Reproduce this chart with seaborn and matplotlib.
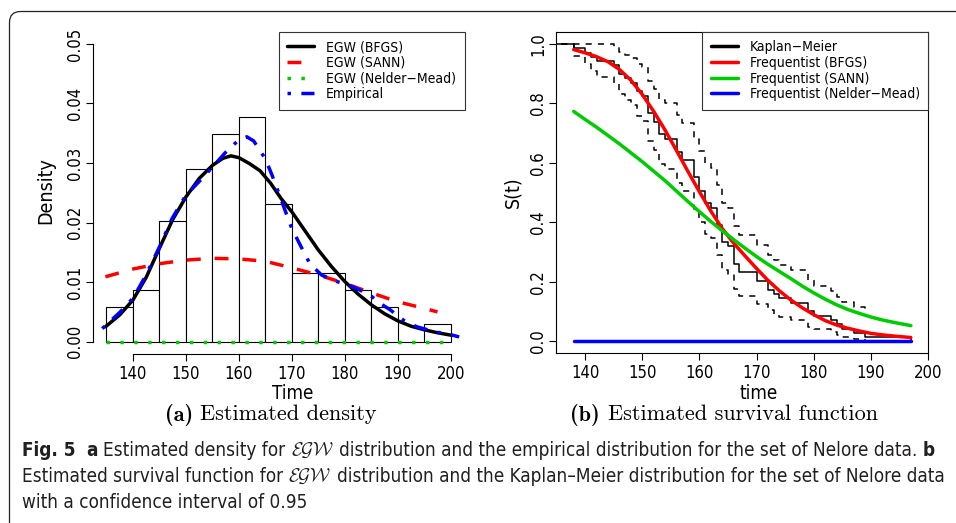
import matplotlib
matplotlib.use("Agg")
import matplotlib.pyplot as plt
import seaborn as sns
from matplotlib import font_manager as fm
from matplotlib.lines import Line2D
from matplotlib.patches import FancyBboxPatch
from matplotlib.transforms import IdentityTransform

# (a) histogram of the Nelore data, density per 5-day bin
bin_left = [135, 140, 145, 150, 155, 160, 165, 170, 175, 180, 185, 190, 195]
bin_edges = [135, 140, 145, 150, 155, 160, 165, 170, 175, 180, 185, 190, 195, 200]
hist_density = [0.0058, 0.0087, 0.0203, 0.0290, 0.0348, 0.0377, 0.0232,
                0.0116, 0.0116, 0.0087, 0.0058, 0.0, 0.0029]

# (a) fitted densities
bfgs_t = [134.8, 137.5, 140, 142.5, 145, 147.5, 150, 152.5, 155, 157, 158.5, 160,
          162, 164, 166, 168, 170, 172.5, 175, 177.5, 180, 182.5, 185, 187.5, 190,
          192.5, 195, 197.5, 200]
bfgs_dens = [0.0025, 0.0045, 0.0070, 0.0108, 0.0157, 0.0205, 0.0243, 0.0274, 0.0296,
             0.0308, 0.0312, 0.0309, 0.0299, 0.0287, 0.0266, 0.0240, 0.0218, 0.0186,
             0.0154, 0.0126, 0.0101, 0.0080, 0.0062, 0.0047, 0.0035, 0.0026, 0.0020,
             0.0015, 0.0011]
sann_t = [134.8, 140, 145, 150, 155, 160, 165, 170, 175, 180, 185, 190, 195, 197.5]
sann_dens = [0.0109, 0.0122, 0.0131, 0.0137, 0.0140, 0.0139, 0.0135, 0.0124, 0.0112,
             0.0098, 0.0082, 0.0067, 0.0056, 0.0050]
nm_t = [135, 200]
nm_dens = [0.0, 0.0]
emp_t = [134.2, 137.6, 140, 142.3, 145, 147.4, 150, 152.4, 155, 157.4, 160, 161.5,
         162.8, 165, 166.2, 167.8, 168.7, 170, 171.6, 173.4, 175.6, 178.5, 180.4,
         182.3, 184.8, 186.7, 188.5, 191.1, 193.6, 197.3, 199.9, 201.6]
emp_dens = [0.0022, 0.0050, 0.0073, 0.0109, 0.0159, 0.0207, 0.0246, 0.0268, 0.0293,
            0.0317, 0.0339, 0.0344, 0.0337, 0.0307, 0.0281, 0.0243, 0.0221, 0.0190,
            0.0162, 0.0131, 0.0112, 0.0101, 0.0096, 0.0089, 0.0078, 0.0064, 0.0054,
            0.0036, 0.0025, 0.0016, 0.0012, 0.0008]

# (b) Kaplan-Meier estimate with 95% band
km_time = [0, 138, 140, 141, 142, 145, 146, 147, 148, 149, 150, 151, 152, 153, 154,
           156, 157, 159, 160, 161, 162, 163, 164, 165, 166, 167, 170, 172, 173, 174,
           176, 179, 180, 183, 184, 185, 187, 189, 197]
km_surv = [1.0, 0.986, 0.971, 0.957, 0.942, 0.928, 0.899, 0.884, 0.870, 0.841, 0.826,
           0.768, 0.739, 0.696, 0.681, 0.638, 0.609, 0.551, 0.507, 0.464, 0.449, 0.391,
           0.333, 0.319, 0.261, 0.232, 0.203, 0.174, 0.159, 0.145, 0.130, 0.101, 0.087,
           0.072, 0.058, 0.043, 0.029, 0.014, 0.0]
ci_time = km_time[:-1]
ci_upper = [1.0, 1.0, 1.0, 1.0, 0.999, 0.991, 0.973, 0.963, 0.953, 0.932, 0.921, 0.874,
            0.850, 0.813, 0.801, 0.762, 0.735, 0.682, 0.640, 0.598, 0.583, 0.525, 0.465,
            0.450, 0.388, 0.356, 0.324, 0.291, 0.274, 0.257, 0.240, 0.205, 0.187, 0.169,
            0.150, 0.132, 0.114, 0.102]
ci_lower = [1.0, 0.958, 0.932, 0.910, 0.888, 0.868, 0.830, 0.812, 0.794, 0.759, 0.741,
            0.675, 0.642, 0.595, 0.580, 0.534, 0.504, 0.445, 0.402, 0.360, 0.346, 0.292,
            0.239, 0.226, 0.175, 0.151, 0.127, 0.104, 0.093, 0.082, 0.071, 0.050, 0.041,
            0.031, 0.022, 0.014, 0.007, 0.002]

# (b) fitted survival curves
surv_t = [138, 140, 142, 144, 146, 148, 150, 152, 154, 156, 158, 160, 162, 164, 166,
          168, 170, 172, 174, 176, 178, 180, 182, 184, 186, 188, 190, 192, 194, 197]
bfgs_surv = [0.981, 0.970, 0.957, 0.940, 0.914, 0.878, 0.830, 0.773, 0.710, 0.641,
             0.571, 0.503, 0.438, 0.379, 0.330, 0.287, 0.245, 0.205, 0.170, 0.139,
             0.113, 0.090, 0.070, 0.055, 0.044, 0.035, 0.027, 0.022, 0.018, 0.013]
sann_surv = [0.773, 0.746, 0.720, 0.692, 0.664, 0.634, 0.604, 0.572, 0.540, 0.505,
             0.470, 0.436, 0.403, 0.372, 0.342, 0.313, 0.285, 0.259, 0.235, 0.211,
             0.186, 0.163, 0.142, 0.123, 0.107, 0.094, 0.082, 0.072, 0.064, 0.053]
nm_st = [138, 197]
nm_surv = [0.0, 0.0]

left_labels = ["EGW (BFGS)", "EGW (SANN)", "EGW (Nelder\u2212Mead)", "Empirical"]
right_labels = ["Kaplan\u2212Meier", "Frequentist (BFGS)", "Frequentist (SANN)",
                "Frequentist (Nelder\u2212Mead)"]

RED, GREEN, BLUE = "#ff0000", "#00cd00", "#0000ff"

sns.set_style("ticks")


# pick a narrow proportional sans if there is one (figure text is condensed)
def rank(f):
    if f.name == "Liberation Sans Narrow":
        return 0
    if f.name.startswith("DejaVu Sans"):
        return 1
    return 2


cands = [f for f in fm.fontManager.ttflist
         if ("Narrow" in f.name or "Condensed" in f.name or "condensed" in str(f.stretch))
         and "Mono" not in f.name and "Serif" not in f.name and "Code" not in f.name
         and f.style == "normal" and f.weight in (400, "normal", "regular", "book")]
cands.sort(key=rank)
narrow = cands[0].name if cands else None
sans = narrow or "Liberation Sans"
K = 1.0 if narrow else 0.9
plt.rcParams["font.family"] = [sans, "DejaVu Sans"]
if narrow:
    plt.rcParams["font.stretch"] = "condensed"
plt.rcParams["mathtext.fontset"] = "cm"
for k in ["text.color", "axes.labelcolor", "xtick.color", "ytick.color", "axes.edgecolor"]:
    plt.rcParams[k] = "black"
plt.rcParams["axes.linewidth"] = 0.8

W, H = 956, 523
fig = plt.figure(figsize=(W / 100, H / 100), dpi=100)


def box(l, t, r, b):
    return [l / W, 1 - b / H, (r - l) / W, (b - t) / H]


ax1 = fig.add_axes(box(92.7, 32, 464.5, 353.6))
ax2 = fig.add_axes(box(556, 32, 928, 353.3))

LW = 2.5
dash = (0, (4, 4))
dotdash = (0, (1, 3, 4, 3))
dotted = (0, (1, 3))

# ---- panel (a)
sns.histplot(x=bin_left, weights=hist_density, bins=bin_edges, stat="count",
             color="white", edgecolor="black", linewidth=0.8, alpha=1, ax=ax1)
sns.lineplot(x=bfgs_t, y=bfgs_dens, color="black", lw=LW, estimator=None, ax=ax1)
sns.lineplot(x=sann_t, y=sann_dens, color=RED, lw=LW, linestyle=dash,
             dash_capstyle="butt", estimator=None, ax=ax1)
sns.lineplot(x=nm_t, y=nm_dens, color=GREEN, lw=LW, linestyle=dotted,
             dash_capstyle="butt", estimator=None, ax=ax1)
sns.lineplot(x=emp_t, y=emp_dens, color=BLUE, lw=LW, linestyle=dotdash,
             dash_capstyle="butt", estimator=None, ax=ax1)

ax1.set_xlim(132.4, 202.6)
ax1.set_ylim(-0.002, 0.052)
ax1.set_xticks([140, 150, 160, 170, 180, 190, 200])
ax1.set_yticks([0, 0.01, 0.02, 0.03, 0.04, 0.05])
ax1.set_yticklabels(["0.00", "0.01", "0.02", "0.03", "0.04", "0.05"])
ax1.spines["top"].set_visible(False)
ax1.spines["right"].set_visible(False)
ax1.spines["left"].set_bounds(0, 0.05)
ax1.spines["bottom"].set_bounds(140, 200)
ax1.set_xlabel("Time", fontsize=13.5 * K)
ax1.set_ylabel("Density", fontsize=14 * K)
ax1.xaxis.set_label_coords((293 - 92.7) / 371.8, -(393.5 - 353.6) / 321.6)
ax1.yaxis.set_label_coords((45.7 - 92.7) / 371.8, (353.6 - 190.8) / 321.6)

h1 = [Line2D([], [], color="black", lw=LW),
      Line2D([], [], color=RED, lw=LW, linestyle=dash, dash_capstyle="butt"),
      Line2D([], [], color=GREEN, lw=LW, linestyle=dotted, dash_capstyle="butt"),
      Line2D([], [], color=BLUE, lw=LW, linestyle=dotdash, dash_capstyle="butt")]

# ---- panel (b)
sns.lineplot(x=km_time, y=km_surv, color="black", lw=1.1, drawstyle="steps-post",
             estimator=None, ax=ax2)
sns.lineplot(x=ci_time, y=ci_upper, color="black", lw=1.1, drawstyle="steps-post",
             linestyle=dash, estimator=None, ax=ax2)
sns.lineplot(x=ci_time, y=ci_lower, color="black", lw=1.1, drawstyle="steps-post",
             linestyle=dash, estimator=None, ax=ax2)
sns.lineplot(x=surv_t, y=bfgs_surv, color=RED, lw=LW, estimator=None, ax=ax2)
sns.lineplot(x=surv_t, y=sann_surv, color=GREEN, lw=LW, estimator=None, ax=ax2)
sns.lineplot(x=nm_st, y=nm_surv, color=BLUE, lw=LW, estimator=None, ax=ax2)

ax2.set_xlim(134.9, 200.0)
ax2.set_ylim(-0.04, 1.04)
ax2.set_xticks([140, 150, 160, 170, 180, 190, 200])
ax2.set_yticks([0, 0.2, 0.4, 0.6, 0.8, 1.0])
ax2.set_yticklabels(["0.0", "0.2", "0.4", "0.6", "0.8", "1.0"])
ax2.set_xlabel("time", fontsize=13.5 * K)
ax2.set_ylabel("S(t)", fontsize=14 * K)
ax2.xaxis.set_label_coords((758.3 - 556) / 372, -(393.5 - 353.3) / 321.3)
ax2.yaxis.set_label_coords((513.3 - 556) / 372, (353.3 - 192.5) / 321.3)

h2 = [Line2D([], [], color=c, lw=LW) for c in ["black", RED, GREEN, BLUE]]

for ax, hh, labs in [(ax1, h1, left_labels), (ax2, h2, right_labels)]:
    ax.tick_params(axis="both", direction="out", length=5, width=0.8, labelsize=12 * K)
    ax.tick_params(axis="y", pad=1.5)
    ax.tick_params(axis="x", pad=3)
    for lab in ax.get_yticklabels():
        lab.set_rotation(90)
        lab.set_va("center")
    ax.xaxis.label.set_va("center")
    ax.yaxis.label.set_va("center")
    leg = ax.legend(hh, labs, loc="upper right", bbox_to_anchor=(1, 1),
                    borderaxespad=0, fancybox=False, framealpha=1, edgecolor="#333333",
                    fontsize=10 * K, handlelength=1.95, handletextpad=0.85,
                    labelspacing=0.12, borderpad=0.6)
    leg.get_frame().set_linewidth(0.8)

# ---- frame and captions
frame = FancyBboxPatch((9.5, -40), 1100, H - 11.5 + 40,
                       boxstyle="round,pad=0,rounding_size=11",
                       transform=IdentityTransform(), fill=False,
                       edgecolor="#222222", linewidth=0.9)
fig.add_artist(frame)

r = fig.canvas.get_renderer()


def measure(s, **kw):
    t = fig.text(0, 0, s, **kw)
    w = t.get_window_extent(r).width
    t.remove()
    return w


def adv(s, **kw):
    if s.startswith("$"):
        return measure(s, **kw)
    return measure("|" + s + "|", **kw) - measure("||", **kw)


def run(pieces, x, y, size, center=False, draw=True):
    items, total = [], 0
    for s, kw in pieces:
        kw = dict(kw, fontsize=size)
        lead = len(s) - len(s.lstrip(" "))
        off = adv(" " * lead, **kw) if lead else 0
        items.append((s.lstrip(" "), kw, total + off))
        total += adv(s, **kw)
    if draw:
        x0 = x - total / 2 if center else x
        for s, kw, dx in items:
            fig.text((x0 + dx) / W, 1 - y / H, s, va="baseline", ha="left", **kw)
    return total


rm = {"family": "cmr10"}
bf = {"family": "cmb10"}
run([("(a)", bf), (" Estimated density", rm)], 271, 420.5, 16, center=True)
run([("(b)", bf), (" Estimated survival function", rm)], 724, 420.5, 16, center=True)

cap = {"family": [sans, "DejaVu Sans"], "color": "#231f20", "weight": "normal"}
capb = dict(cap, weight="bold")
egw = {"color": "#231f20"}
line1 = [("Fig. 5", capb), ("  ", cap), ("a", capb), (" Estimated density for ", cap),
         (r"$\mathcal{EGW}$", egw),
         (" distribution and the empirical distribution for the set of Nelore data. ", cap),
         ("b", capb)]
line2 = [("Estimated survival function for ", cap), (r"$\mathcal{EGW}$", egw),
         (" distribution and the Kaplan\u2013Meier distribution for the set of Nelore data", cap)]
line3 = [("with a confidence interval of 0.95", cap)]
w0 = run(line2, 0, 0, 11, draw=False)
cs = 11 * 928 / w0
run(line1, 22, 456, cs)
run(line2, 22, 482, cs)
run(line3, 22, 508, cs)

fig.savefig("out.png", dpi=100)
